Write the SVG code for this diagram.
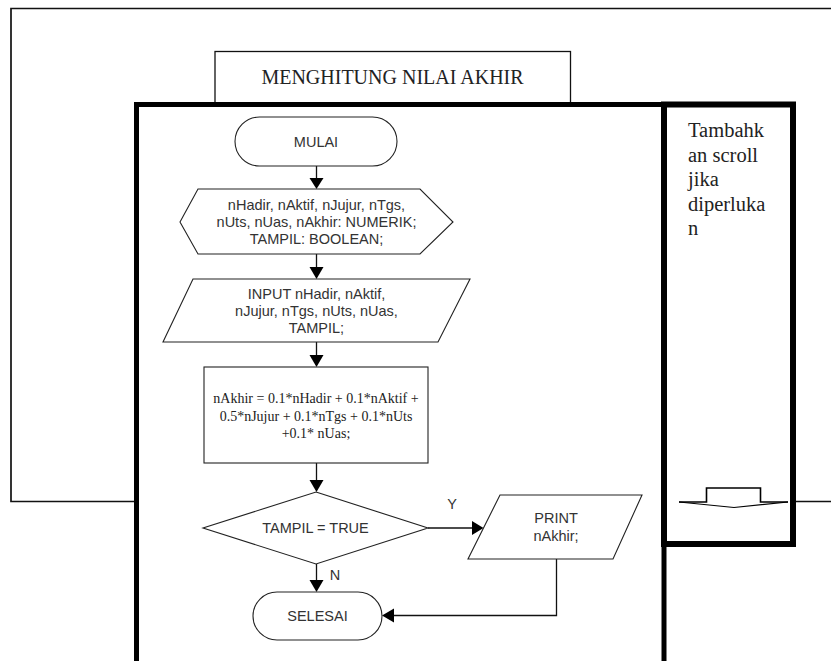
<svg xmlns="http://www.w3.org/2000/svg" width="831" height="661" viewBox="0 0 831 661">
  <defs>
    <style>
      .thin { fill: none; stroke: #111; stroke-width: 1.7; }
      .box { fill: #fff; stroke: #111; stroke-width: 1.3; }
      .shape { fill: #fff; stroke: #222; stroke-width: 1.1; }
      .conn { fill: none; stroke: #111; stroke-width: 1.3; }
      .head { fill: #000; stroke: none; }
      .sans { font-family: "Liberation Sans", Arial, sans-serif; font-size: 14.5px; fill: #333; text-anchor: middle; }
      .serif { font-family: "Liberation Serif", "Times New Roman", serif; fill: #222; }
    </style>
  </defs>

  <!-- outer window outline (open on the right) -->
  <polyline class="thin" points="831,8.5 11,8.5 11,501.5 831,501.5"/>

  <!-- window title tab -->
  <g id="title">
    <rect class="box" x="215" y="51.5" width="355.5" height="60"/>
    <text class="serif" x="392.5" y="83.5" font-size="20" text-anchor="middle">MENGHITUNG NILAI AKHIR</text>
  </g>

  <!-- main content frame -->
  <g id="frame">
    <rect x="136.5" y="104.5" width="527.5" height="580" fill="#fff" stroke="#000" stroke-width="5"/>
  </g>

  <!-- side panel -->
  <g id="side-panel">
    <rect x="664" y="104.5" width="129" height="439.5" fill="#fff" stroke="#000" stroke-width="6"/>
    <text class="serif" font-size="20.5" x="688">
      <tspan x="688" y="137">Tambahk</tspan>
      <tspan x="688" y="161.5">an scroll</tspan>
      <tspan x="688" y="186">jika</tspan>
      <tspan x="688" y="210.5">diperluka</tspan>
      <tspan x="688" y="235">n</tspan>
    </text>
    <!-- scroll-down indicator -->
    <path d="M679,502 L706.5,502 L706.5,488 L760.5,488 L760.5,502 L788,502" fill="none" stroke="#000" stroke-width="1.6"/>
    <path d="M679,502 L734,507.5 L788,502" fill="none" stroke="#000" stroke-width="1.2"/>
  </g>

  <!-- connectors -->
  <g id="connectors">
    <line class="conn" x1="316.5" y1="166" x2="316.5" y2="178"/>
    <polygon class="head" points="309.5,178 323.5,178 316.5,189"/>

    <line class="conn" x1="316.5" y1="254" x2="316.5" y2="267"/>
    <polygon class="head" points="309.5,267 323.5,267 316.5,279"/>

    <line class="conn" x1="316.5" y1="342" x2="316.5" y2="355"/>
    <polygon class="head" points="309.5,355 323.5,355 316.5,367"/>

    <line class="conn" x1="316.5" y1="463" x2="316.5" y2="480"/>
    <polygon class="head" points="309.5,480 323.5,480 316.5,492"/>

    <line class="conn" x1="428" y1="528" x2="472" y2="528"/>
    <polygon class="head" points="472,521 472,535 483.5,528"/>
    <text class="sans" x="452" y="509" font-size="14">Y</text>

    <line class="conn" x1="316.5" y1="564" x2="316.5" y2="580"/>
    <polygon class="head" points="309.5,580 323.5,580 316.5,592"/>
    <text class="sans" x="335" y="580" font-size="14">N</text>

    <polyline class="conn" points="556.5,559 556.5,615.5 394,615.5"/>
    <polygon class="head" points="394,608.5 394,622.5 382,615.5"/>
  </g>

  <!-- flowchart nodes -->
  <g id="mulai">
    <rect class="shape" x="235" y="117" width="162" height="49" rx="24.5"/>
    <text class="sans" x="316" y="146.5">MULAI</text>
  </g>

  <g id="deklarasi">
    <polygon class="shape" points="180,222 198,189 420,189 453,222 420,254 198,254"/>
    <text class="sans" x="316.5" y="210">nHadir, nAktif, nJujur, nTgs,</text>
    <text class="sans" x="316.5" y="227">nUts, nUas, nAkhir: NUMERIK;</text>
    <text class="sans" x="316.5" y="244">TAMPIL: BOOLEAN;</text>
  </g>

  <g id="input">
    <polygon class="shape" points="193,279 470,279 438,342 163,342"/>
    <text class="sans" x="316.5" y="298.5">INPUT nHadir, nAktif,</text>
    <text class="sans" x="316.5" y="316">nJujur, nTgs, nUts, nUas,</text>
    <text class="sans" x="316.5" y="333">TAMPIL;</text>
  </g>

  <g id="hitung">
    <rect class="shape" x="204" y="367" width="224" height="96"/>
    <text class="serif" font-size="14" text-anchor="middle" x="316" y="403" fill="#333">nAkhir = 0.1*nHadir + 0.1*nAktif +</text>
    <text class="serif" font-size="14" text-anchor="middle" x="316" y="421" fill="#333">0.5*nJujur + 0.1*nTgs + 0.1*nUts</text>
    <text class="serif" font-size="14" text-anchor="middle" x="316" y="438" fill="#333">+0.1* nUas;</text>
  </g>

  <g id="cek-tampil">
    <polygon class="shape" points="316,492 428,528 316,564 203,528"/>
    <text class="sans" x="315.5" y="533">TAMPIL = TRUE</text>
  </g>

  <g id="print">
    <polygon class="shape" points="500,495 642,495 613,559 468,559"/>
    <text class="sans" x="556" y="523">PRINT</text>
    <text class="sans" x="556" y="541">nAkhir;</text>
  </g>

  <g id="selesai">
    <rect class="shape" x="253" y="592" width="129" height="48" rx="24"/>
    <text class="sans" x="317.5" y="621">SELESAI</text>
  </g>
</svg>
